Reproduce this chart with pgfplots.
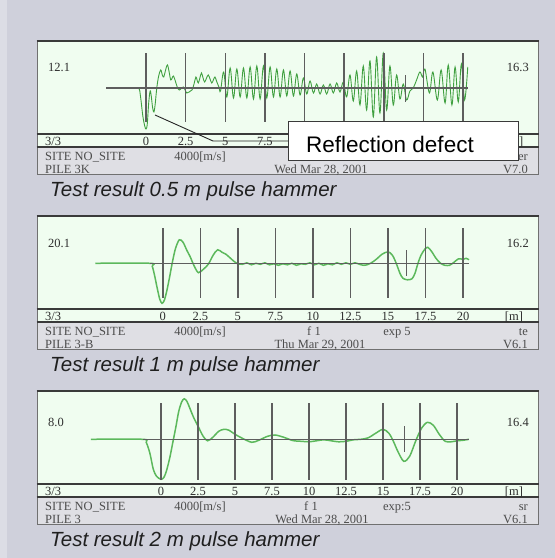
\documentclass[border=0pt]{standalone}
\usepackage{pgfplots}
\pgfplotsset{compat=1.18}
\usepackage{fontspec}
\setmainfont{Liberation Serif}
\newfontfamily\arialfont{Liberation Sans}
\definecolor{bggrey}{HTML}{CFD0DB}
\definecolor{bgstrip}{HTML}{DCDDE5}
\definecolor{plotbg}{HTML}{F0FDF0}
\definecolor{footbg}{HTML}{DFDFE4}
\definecolor{framedark}{HTML}{3A3A3A}
\definecolor{framegrey}{HTML}{707070}
\definecolor{gridc}{HTML}{5E5E5E}
\definecolor{sig}{HTML}{5CB85C}
\definecolor{sigdark}{HTML}{40A040}
\definecolor{txt}{HTML}{2E2E2E}
\definecolor{foottxt}{HTML}{4C4C4C}
\newcommand\lblfont{\fontsize{12.5bp}{13bp}\selectfont}
\newcommand\capfont{\arialfont\itshape\fontsize{20.5bp}{22bp}\selectfont}
\newcommand{\panelframe}[1]{%
 \begin{scope}[yshift=#1bp]
  \fill[plotbg] (37,0) rectangle (538,-106);
  \fill[footbg] (37,-106) rectangle (538,-134);
  \draw[line width=1bp, framegrey] (37,0) -- (37,-134) -- (538,-134) -- (538,0);
  \draw[line width=2bp, framedark] (36.5,0) -- (538.5,0);
  \draw[line width=2bp, framedark] (36.5,-93) -- (538.5,-93);
  \draw[line width=2bp, framedark] (36.5,-106) -- (538.5,-106);
 \end{scope}}
\pgfplotsset{panelaxis/.style={
  scale only axis, width=501bp, height=93bp, anchor=south west,
  axis line style={draw=none}, tick style={draw=none}, ytick=\empty,
  xtick={0,2.5,5,7.5,10,12.5,15,17.5,20},
  xticklabels={0,2.5,5,7.5,10,12.5,15,17.5,20},
  /pgf/number format/assume math mode=true,
  xticklabel style={font=\lblfont, text=txt, anchor=base, inner sep=0pt, yshift=-11.5bp}},
  gridl/.style={gridc, line width=1.5bp, forget plot},
}
\begin{document}
\begin{tikzpicture}[x=1bp,y=1bp,
  lbl/.style={inner sep=0pt, font=\lblfont, text=txt},
  foot/.style={inner sep=0pt, font=\lblfont, text=foottxt},
  capt/.style={inner sep=0pt, font=\capfont, text=black!88}]
\fill[bggrey] (0,0) rectangle (555,558);
\fill[bgstrip] (0,0) rectangle (7,558);
\panelframe{517}
\panelframe{342}
\panelframe{167}
% ---- panel 1 texts (those under the callout box are hidden in the reference)
\begin{scope}[yshift=517bp]
\node[anchor=base west, lbl] at (48,-30.5) {12.1};
\node[anchor=base east, lbl] at (529,-30.5) {16.3};
\node[anchor=base west, lbl] at (45,-104.5) {3/3};
\node[anchor=base west, lbl] at (519,-104.5) {]};
\node[anchor=base west, foot] at (45,-119.5) {SITE NO\_SITE};
\node[anchor=base, foot] at (200,-119.5) {4000[m/s]};
\node[anchor=base east, foot] at (528,-119.5) {er};
\node[anchor=base west, foot] at (45,-132.5) {PILE 3K};
\node[anchor=base, foot] at (321,-132.5) {Wed Mar 28, 2001};
\node[anchor=base east, foot] at (528,-132.5) {V7.0};
\node[anchor=base west, capt] at (50,-155.5) {Test result 0.5 m pulse hammer};
\end{scope}
% ---- panel 2 texts
\begin{scope}[yshift=342bp]
\node[anchor=base west, lbl] at (48,-32) {20.1};
\node[anchor=base east, lbl] at (529,-32) {16.2};
\node[anchor=base west, lbl] at (45,-104.5) {3/3};
\node[anchor=base, lbl] at (514,-104.5) {[m]};
\node[anchor=base west, foot] at (45,-119.5) {SITE NO\_SITE};
\node[anchor=base, foot] at (200,-119.5) {4000[m/s]};
\node[anchor=base, foot] at (314,-119.5) {f 1};
\node[anchor=base, foot] at (397,-119.5) {exp 5};
\node[anchor=base east, foot] at (528,-119.5) {te};
\node[anchor=base west, foot] at (45,-132.5) {PILE 3-B};
\node[anchor=base, foot] at (320,-132.5) {Thu Mar 29, 2001};
\node[anchor=base east, foot] at (528,-132.5) {V6.1};
\node[anchor=base west, capt] at (50,-155.5) {Test result 1 m pulse hammer};
\end{scope}
% ---- panel 3 texts
\begin{scope}[yshift=167bp]
\node[anchor=base west, lbl] at (48,-36) {8.0};
\node[anchor=base east, lbl] at (529,-36) {16.4};
\node[anchor=base west, lbl] at (45,-104.5) {3/3};
\node[anchor=base, lbl] at (514,-104.5) {[m]};
\node[anchor=base west, foot] at (45,-119.5) {SITE NO\_SITE};
\node[anchor=base, foot] at (200,-119.5) {4000[m/s]};
\node[anchor=base, foot] at (311,-119.5) {f 1};
\node[anchor=base, foot] at (397,-119.5) {exp:5};
\node[anchor=base east, foot] at (528,-119.5) {sr};
\node[anchor=base west, foot] at (45,-132.5) {PILE 3};
\node[anchor=base, foot] at (322,-132.5) {Wed Mar 28, 2001};
\node[anchor=base east, foot] at (528,-132.5) {V6.1};
\node[anchor=base west, capt] at (50,-155.5) {Test result 2 m pulse hammer};
\end{scope}
% ================= panel 1 axis
\begin{axis}[panelaxis, at={(37bp,424bp)}, xmin=-6.877, xmax=24.732, ymin=-46, ymax=47,
  xtick={0,2.5,5,7.5}, xticklabels={0,2.5,5,7.5}]
\addplot[sigdark, line width=0.9bp, smooth, tension=0.6] coordinates {
(-0.7,0) (-0.45,0) (-0.35,-8) (-0.2,-28) (-0.08,-38) (0,-41) (0.08,-36) (0.17,-15) (0.26,-3) (0.33,-8) (0.42,-20) (0.5,-24) (0.58,-16) (0.68,0) (0.8,12) (0.93,18) (1.03,13) (1.12,11) (1.22,17) (1.35,23) (1.46,16) (1.56,8) (1.65,10) (1.73,12) (1.85,7) (1.97,1) (2.1,-2) (2.25,0) (2.35,1) (2.47,-2) (2.57,-5) (2.72,-4) (2.9,-2) (3.03,4) (3.15,11) (3.22,8) (3.3,5) (3.4,10) (3.5,15) (3.6,10) (3.7,6) (3.82,10) (3.93,13) (4.04,9) (4.15,5) (4.25,8) (4.35,11) (4.47,6) (4.6,1)
(4.7,-3) (4.9,16) (5.1,-9) (5.31,20) (5.52,-10) (5.73,19) (5.94,-9) (6.15,20) (6.36,-10) (6.57,21) (6.78,-11) (6.99,22) (7.2,-11) (7.41,22) (7.62,-10) (7.83,21) (8.04,-9) (8.25,19) (8.46,-9) (8.67,18) (8.88,-8) (9.09,17) (9.3,-8) (9.51,14) (9.72,-7) (9.93,10) (10.14,-6) (10.35,7) (10.56,-5) (10.77,4) (10.98,-6) (11.19,3) (11.4,-6) (11.61,4) (11.82,-5) (12.03,5) (12.24,-4) (12.45,6) (12.66,-9) (12.87,13) (13.08,-13) (13.29,17) (13.5,-17) (13.71,22) (13.92,-22) (14.13,27) (14.34,-29) (14.55,31) (14.76,-25) (14.97,35) (15.18,-22) (15.39,22) (15.6,-17) (15.81,13) (16.02,-11) (16.23,4) (16.44,-12) (16.65,-3) (16.86,0) (17.07,8) (17.28,16) (17.45,11) (17.6,19) (17.88,-5) (18.1,16) (18.38,-12) (18.62,18) (18.87,-15) (19.07,23) (19.3,-17) (19.5,21) (19.7,-14) (19.9,24) (20.1,-12) (20.3,21)};
\addplot[gridl, ycomb] coordinates {(0,35) (2.5,35) (5,35) (7.5,35) (10,35) (12.5,35) (15,35) (17.5,35) (20,35)};
\addplot[gridl, ycomb] coordinates {(0,-34) (2.5,-34) (5,-34) (7.5,-34) (10,-34) (12.5,-34) (15,-34) (17.5,-34) (20,-34)};
\addplot[gridl] coordinates {(-2.52,0) (20.3,0)};
\addplot[gridl, ycomb] coordinates {(16.38,13) (16.38,-14)};
\end{axis}
% ================= panel 2 axis
\begin{axis}[panelaxis, at={(37bp,249bp)}, xmin=-8.381, xmax=24.997, ymin=-45.7, ymax=47.3]
\addplot[sig, line width=1.5bp, smooth, tension=0.5] coordinates {
(-4.5,0) (-0.85,0) (-0.7,-3) (-0.55,-12) (-0.37,-25) (-0.2,-36) (-0.05,-40) (0.1,-37) (0.26,-28) (0.45,-14) (0.65,2) (0.85,15) (1.1,23.5) (1.35,21) (1.6,13) (1.81,7) (2.1,-3) (2.37,-9.4) (2.7,-6) (3.03,-1) (3.35,8) (3.65,13.5) (3.95,11) (4.21,9) (4.55,4.5) (4.92,0)
(5.3,-1) (5.6,0.5) (5.9,-1.5) (6.2,0) (6.5,-1) (6.8,0.5) (7.1,-1.5) (7.4,-0.5) (7.7,-2) (8.0,-0.5) (8.3,-1.5) (8.6,0) (8.9,-2) (9.2,-0.5) (9.5,-1) (9.8,0.5) (10.1,-1.5) (10.4,0) (10.7,-2) (11.0,-0.5) (11.3,-1.5) (11.6,0.5) (11.9,-1) (12.2,0.5) (12.5,-1) (12.8,0.5) (13.1,-1) (13.4,-2) (13.7,-1)
(14.0,1.5) (14.3,5) (14.6,9) (15.0,11.5) (15.3,8) (15.55,0) (15.8,-10) (16.0,-15) (16.3,-16.5) (16.6,-15.5) (16.8,-10) (17.0,0) (17.2,8) (17.45,14) (17.65,16) (17.9,12) (18.2,5) (18.5,0) (18.8,-2) (19.1,-2) (19.4,1) (19.7,4.5) (20.0,4) (20.2,5) (20.4,3.5)};
\addplot[gridl, ycomb] coordinates {(0,35.3) (2.5,35.3) (5,35.3) (7.5,35.3) (10,35.3) (12.5,35.3) (15,35.3) (17.5,35.3) (20,35.3)};
\addplot[gridl, ycomb] coordinates {(0,-34.7) (2.5,-34.7) (5,-34.7) (7.5,-34.7) (10,-34.7) (12.5,-34.7) (15,-34.7) (17.5,-34.7) (20,-34.7)};
\addplot[gridl] coordinates {(-0.85,0) (20.4,0)};
\addplot[gridl, ycomb] coordinates {(16.25,13.3) (16.25,-12.5)};
\end{axis}
% ================= panel 3 axis
\begin{axis}[panelaxis, at={(37bp,74bp)}, xmin=-8.378, xmax=25.473, ymin=-44.7, ymax=48.3]
\addplot[sig, line width=1.5bp, smooth, tension=0.5] coordinates {
(-4.73,0) (-1.24,0) (-1.0,-3) (-0.75,-14) (-0.52,-30) (-0.3,-37) (0,-40) (0.2,-38) (0.38,-31) (0.6,-18) (0.8,-3) (1.0,12) (1.2,28) (1.4,37.5) (1.57,40.5) (1.75,38) (1.95,31) (2.2,22) (2.52,12.6) (2.85,3) (3.15,-1.5) (3.5,2) (3.9,8) (4.26,10) (4.6,9) (5.0,5) (5.5,1) (6.13,-3) (6.6,-1) (7.2,3) (7.7,4.3) (8.3,2) (8.94,-1.4) (9.5,-2) (10.0,-2.5) (10.5,-1.5) (11.0,-0.5) (11.5,-1.5) (12.0,-2.5) (12.5,-2) (13.0,-0.5) (13.5,0) (14.0,1.5) (14.5,6) (15.0,10) (15.4,6) (15.7,-2) (16.0,-12) (16.4,-22) (16.8,-17) (17.2,-2) (17.6,11) (18.0,17) (18.4,14) (18.8,5) (19.2,-2) (19.6,-2.5) (20.0,-1.5) (20.4,-1) (20.8,0)};
\addplot[gridl, ycomb] coordinates {(0,36.3) (2.5,36.3) (5,36.3) (7.5,36.3) (10,36.3) (12.5,36.3) (15,36.3) (17.5,36.3) (20,36.3)};
\addplot[gridl, ycomb] coordinates {(0,-40.7) (2.5,-40.7) (5,-40.7) (7.5,-40.7) (10,-40.7) (12.5,-40.7) (15,-40.7) (17.5,-40.7) (20,-40.7)};
\addplot[gridl] coordinates {(-1.24,0) (20.8,0)};
\addplot[gridl, ycomb] coordinates {(16.44,13.6) (16.44,-12.4)};
\end{axis}
% ---- callout on panel 1
\draw[line width=0.9bp, black!85] (155,443) -- (213,417) -- (288,417);
\draw[line width=1bp, framedark, fill=white] (288,436) rectangle (518,397);
\node[anchor=base west, inner sep=0pt, font=\arialfont\fontsize{22.5bp}{24bp}\selectfont, text=black] at (306,405.5) {Reflection defect};
\pgfresetboundingbox
\path[use as bounding box] (0,0) rectangle (555,558);
\end{tikzpicture}
\end{document}
